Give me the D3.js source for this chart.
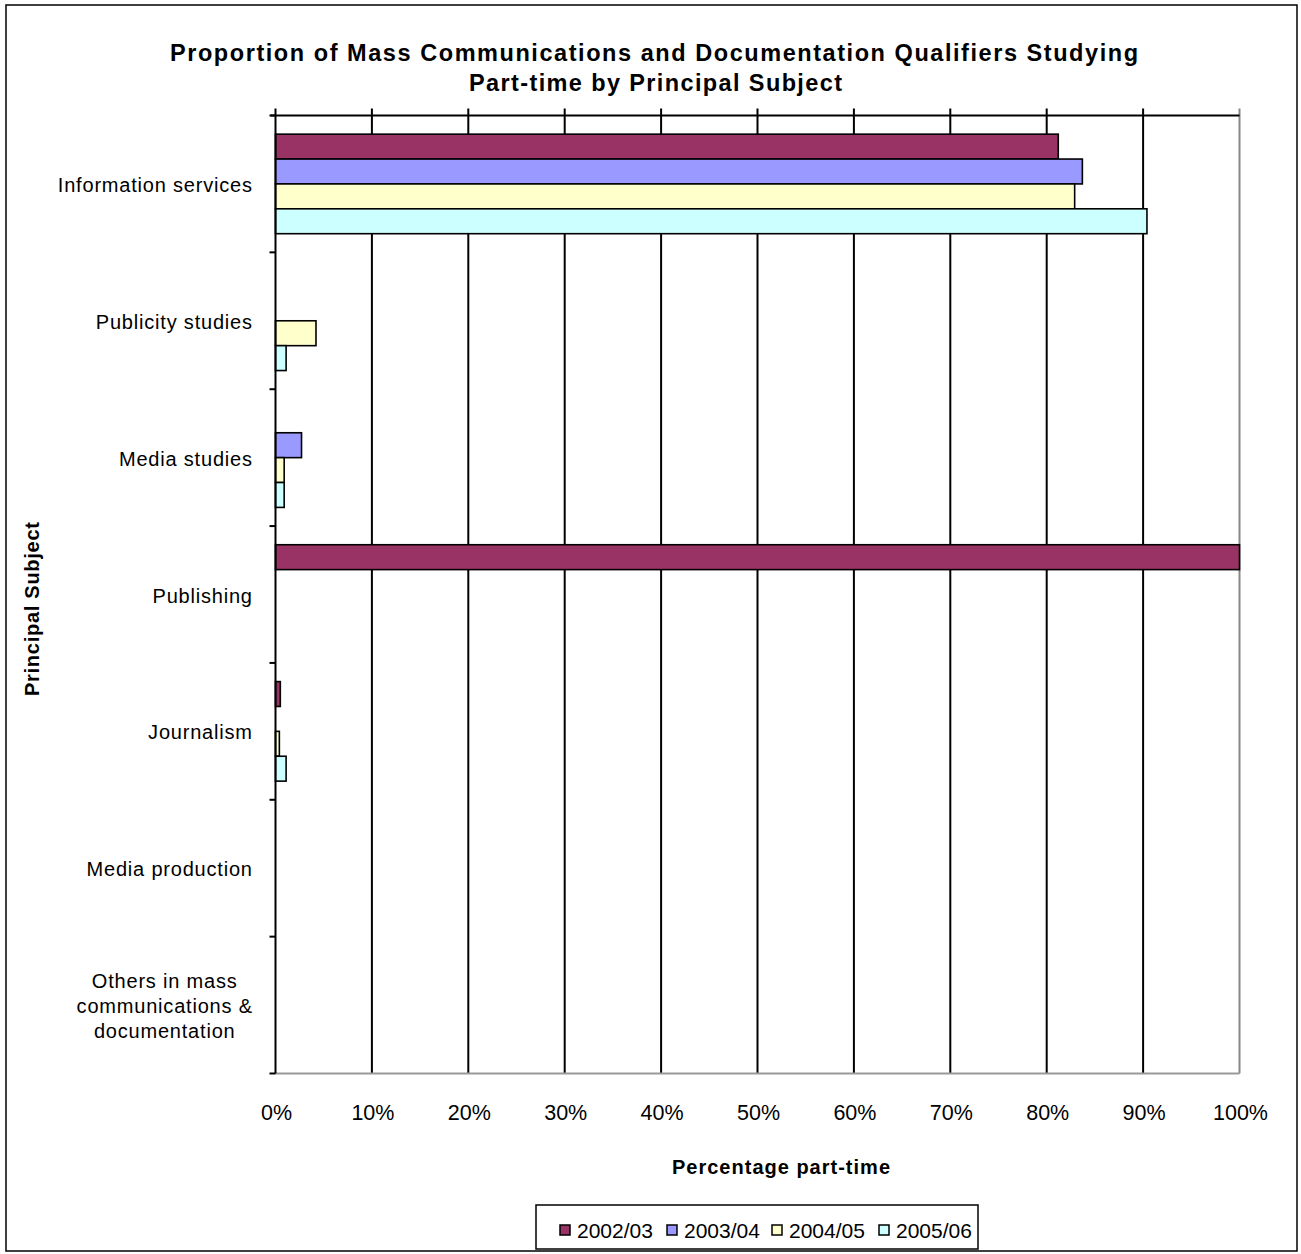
<!DOCTYPE html>
<html><head><meta charset="utf-8">
<script src="https://cdn.jsdelivr.net/npm/d3@7"></script>
<style>body{margin:0;background:#fff}svg{display:block;font-family:"Liberation Sans",Arial,sans-serif}</style>
</head><body>
<script>
const categories = ["Information services","Publicity studies","Media studies","Publishing","Journalism","Media production","Others in mass|communications &|documentation"];
const seriesNames = ["2002/03","2003/04","2004/05","2005/06"];
const seriesColors = ["#993366","#9999FF","#FFFFCC","#CCFFFF"];
const v2002 = [81.2, 0, 0, 100, 0.5, 0, 0];
const v2003 = [83.7, 0, 2.7, 0, 0, 0, 0];
const v2004 = [82.9, 4.2, 0.9, 0, 0.4, 0, 0];
const v2005 = [90.4, 1.1, 0.9, 0, 1.1, 0, 0];
const xTicks = [0,10,20,30,40,50,60,70,80,90,100];
const seriesValues = [v2002, v2003, v2004, v2005];

(function(){
const W = 1301, H = 1254;
const svg = d3.select("body").append("svg").attr("width", W).attr("height", H);
const pL = 275.5, pR = 1239.5, pT = 115.5, pB = 1073.5;

svg.append("rect").attr("x",6).attr("y",5).attr("width",1291).attr("height",1246)
  .attr("fill","#fff").attr("stroke","#000").attr("stroke-width",1.5);

const x = d3.scaleLinear().domain([0,100]).range([pL,pR]);
const y = d3.scaleBand().domain(categories).range([pT,pB]);
const inner = d3.scaleBand().domain(seriesNames).range([0, y.bandwidth()]).paddingOuter(0.75).paddingInner(0);

svg.append("g").selectAll("line").data(xTicks.filter(d=>d>0 && d<100)).join("line")
  .attr("x1",d=>x(d)).attr("x2",d=>x(d)).attr("y1",pT-7).attr("y2",pB)
  .attr("stroke","#000").attr("stroke-width",2);
svg.append("line").attr("x1",pR).attr("x2",pR).attr("y1",pT-7).attr("y2",pB).attr("stroke","#888").attr("stroke-width",2);
svg.append("line").attr("x1",pL).attr("x2",pR).attr("y1",pB).attr("y2",pB).attr("stroke","#999").attr("stroke-width",2);
svg.append("line").attr("x1",pL-5).attr("x2",pR).attr("y1",pT).attr("y2",pT).attr("stroke","#000").attr("stroke-width",2);

const g = svg.append("g");
seriesNames.forEach((s,si)=>{
  g.append("g").selectAll("rect").data(categories.map((c,ci)=>({c, v:seriesValues[si][ci]})).filter(d=>d.v>0)).join("rect")
    .attr("x",x(0)).attr("y",d=>y(d.c)+inner(s))
    .attr("width",d=>x(d.v)-x(0)).attr("height",inner.bandwidth())
    .attr("fill",seriesColors[si]).attr("stroke","#000").attr("stroke-width",1.6);
});

svg.append("line").attr("x1",pL).attr("x2",pL).attr("y1",pT-7).attr("y2",pB).attr("stroke","#000").attr("stroke-width",2);
const bounds = categories.map(c=>y(c)).concat([pB]);
svg.append("g").selectAll("line").data(bounds).join("line")
  .attr("x1",pL-6).attr("x2",pL).attr("y1",d=>d).attr("y2",d=>d).attr("stroke","#000").attr("stroke-width",2);

const LS = 0.8;
categories.forEach(c=>{
  const lines = c.split("|");
  const cy = y(c) + y.bandwidth()/2;
  const lh = 25;
  const t = svg.append("text").attr("font-size",20).attr("letter-spacing",LS).attr("fill","#000");
  lines.forEach((ln,i)=>{
    t.append("tspan").attr("x",0).attr("y", cy - (lines.length-1)*lh/2 + i*lh + 8).text(ln);
  });
  if (lines.length === 1) {
    t.attr("text-anchor","end").selectAll("tspan").attr("x", 252 + LS);
  } else {
    let maxw = 0;
    t.selectAll("tspan").each(function(){ maxw = Math.max(maxw, this.getComputedTextLength()); });
    t.attr("text-anchor","middle").selectAll("tspan").attr("x", 252 + LS - maxw/2);
  }
});

svg.append("g").selectAll("text").data(xTicks).join("text")
  .attr("x",d=>x(d)+1).attr("y",1120).attr("text-anchor","middle").attr("font-size",21.5)
  .text(d=>d+"%");

svg.append("text").attr("x",170).attr("y",61).attr("textLength",968).attr("lengthAdjust","spacing")
  .attr("font-size",23.5).attr("font-weight","bold")
  .text("Proportion of Mass Communications and Documentation  Qualifiers Studying");
svg.append("text").attr("x",469).attr("y",91).attr("textLength",373).attr("lengthAdjust","spacing")
  .attr("font-size",23.5).attr("font-weight","bold")
  .text("Part-time by Principal Subject");
svg.append("text").attr("x",672).attr("y",1174).attr("textLength",218).attr("lengthAdjust","spacing")
  .attr("font-size",20).attr("font-weight","bold")
  .text("Percentage part-time");
svg.append("text").attr("transform","translate(39,696) rotate(-90)").attr("textLength",174).attr("lengthAdjust","spacing")
  .attr("font-size",20).attr("font-weight","bold")
  .text("Principal Subject");

svg.append("rect").attr("x",536).attr("y",1205).attr("width",442).attr("height",44).attr("fill","#fff").attr("stroke","#000").attr("stroke-width",1.5);
const legX = [560, 667, 772, 879];
seriesNames.forEach((s,i)=>{
  svg.append("rect").attr("x",legX[i]).attr("y",1225).attr("width",10).attr("height",10)
    .attr("fill",seriesColors[i]).attr("stroke","#000").attr("stroke-width",1.5);
  svg.append("text").attr("x",legX[i]+17).attr("y",1238).attr("font-size",21).text(s);
});
})();
</script>
</body></html>
